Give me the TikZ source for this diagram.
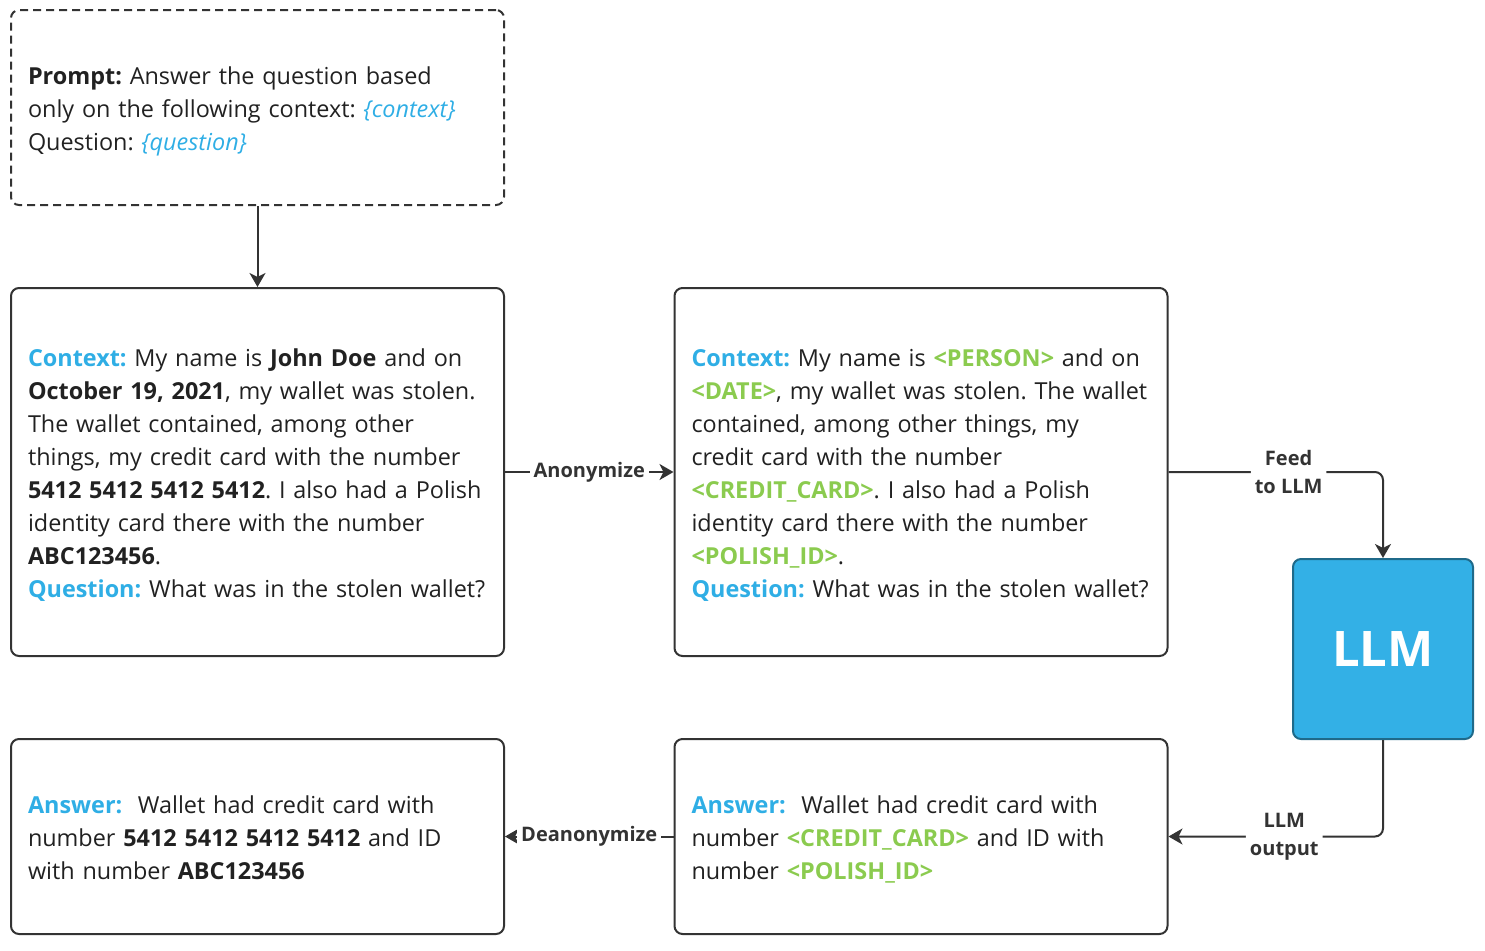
\documentclass[tikz,border=0pt]{standalone}
\usepackage{fontspec}
\setmainfont{Open Sans}
\usetikzlibrary{arrows.meta}
\frenchspacing

\definecolor{keyblue}{HTML}{2FAEE5}
\definecolor{tagreen}{HTML}{8BCB4F}
\definecolor{llmfill}{HTML}{33B0E6}
\definecolor{llmedge}{HTML}{1F6A8A}
\definecolor{ink}{HTML}{333333}

\newcommand{\key}[1]{\textcolor{keyblue}{\textbf{#1}}}
\newcommand{\tag}[1]{\textcolor{tagreen}{\textbf{#1}}}
\newcommand{\slot}[1]{\textcolor{keyblue}{\textit{#1}}}
\newcommand{\topgap}{\rule{0pt}{14.6pt}}

\tikzset{
  textbox/.style={draw=ink, line width=1pt, rounded corners=4pt,
    minimum width=246.5pt, text width=229.5pt, inner xsep=8.5pt, inner ysep=0pt,
    align=left, text=black!87, font=\fontsize{11.7pt}{16.5pt}\selectfont},
  smallbox/.style={textbox, minimum height=97.5pt},
  bigbox/.style={textbox, minimum height=184pt},
  llmbox/.style={draw=llmedge, fill=llmfill, line width=1pt, rounded corners=4pt,
    minimum width=90pt, minimum height=90pt, text=white,
    font=\fontsize{24.5pt}{28pt}\selectfont\bfseries},
  conn/.style={draw=ink, line width=1pt, -{Stealth[length=7pt,width=8pt,inset=2pt]}},
  edgelabel/.style={fill=white, text=ink, align=center, inner xsep=2pt, inner ysep=1pt,
    font=\fontsize{10pt}{14pt}\selectfont\bfseries}
}

\begin{document}
\begin{tikzpicture}[x=0.5pt,y=-0.5pt]
  \useasboundingbox (0,0) rectangle (1485,950);

  % prompt template
  \node [smallbox, dash pattern=on 4pt off 2.5pt] (prompt) at (257.5,107.5)
    {\begin{tabular}{@{}l@{}}
      \topgap\textbf{Prompt:} Answer the question based\\
      only on the following context: \slot{\{context\}}\\
      Question: \slot{\{question\}}
    \end{tabular}};

  % original context
  \node [bigbox] (ctx) at (257.5,472)
    {\begin{tabular}{@{}l@{}}
      \topgap\key{Context:} My name is \textbf{John Doe} and on\\
      \textbf{October 19, 2021}, my wallet was stolen.\\
      The wallet contained, among other\\
      things, my credit card with the number\\
      \textbf{5412 5412 5412 5412}. I also had a Polish\\
      identity card there with the number\\
      \textbf{ABC123456}.\\
      \key{Question:} What was in the stolen wallet?
    \end{tabular}};

  % anonymized context
  \node [bigbox] (anonctx) at (921,472)
    {\begin{tabular}{@{}l@{}}
      \topgap\key{Context:} My name is \tag{<PERSON>} and on\\
      \tag{<DATE>}, my wallet was stolen. The wallet\\
      contained, among other things, my\\
      credit card with the number\\
      \tag{<CREDIT\_CARD>}. I also had a Polish\\
      identity card there with the number\\
      \tag{<POLISH\_ID>}.\\
      \key{Question:} What was in the stolen wallet?
    \end{tabular}};

  % model
  \node [llmbox] (llm) at (1383,649) {LLM};

  % anonymized answer
  \node [smallbox] (anonans) at (921,836.5)
    {\begin{tabular}{@{}l@{}}
      \topgap\key{Answer:}\ \ Wallet had credit card with\\
      number \tag{<CREDIT\_CARD>} and ID with\\
      number \tag{<POLISH\_ID>}
    \end{tabular}};

  % final answer
  \node [smallbox] (ans) at (257.5,836.5)
    {\begin{tabular}{@{}l@{}}
      \topgap\key{Answer:}\ \ Wallet had credit card with\\
      number \textbf{5412 5412 5412 5412} and ID\\
      with number \textbf{ABC123456}
    \end{tabular}};

  % connectors
  \draw [conn] (prompt) -- (ctx);
  \draw [conn] (ctx) -- node [edgelabel] {Anonymize} (anonctx);
  \draw [conn, rounded corners=4pt] (anonctx.east) -| node [edgelabel, pos=0.28] {Feed\\to LLM} (llm.north);
  \draw [conn, rounded corners=4pt] (llm.south) |- node [edgelabel, pos=0.73] {LLM\\output} (anonans.east);
  \draw [conn] (anonans) -- node [edgelabel] {Deanonymize} (ans);
\end{tikzpicture}
\end{document}
